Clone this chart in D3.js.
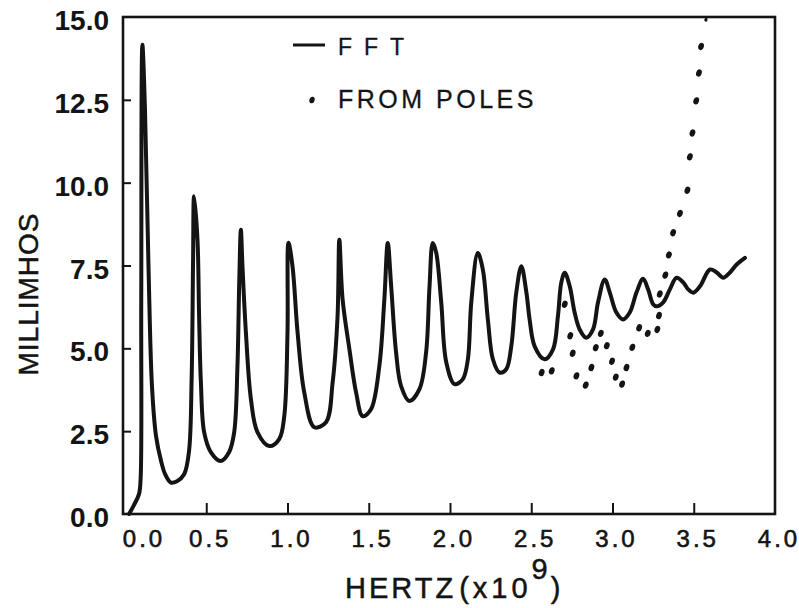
<!DOCTYPE html>
<html>
<head>
<meta charset="utf-8">
<script src="https://cdn.jsdelivr.net/npm/d3@7"></script>
<style>
  html, body { margin: 0; padding: 0; background: #fff; }
  svg { display: block; }
</style>
</head>
<body>
<svg id="chart" width="799" height="608"></svg>
<script>
// ---- data ----
const xTicks = [0, 0.5, 1.0, 1.5, 2.0, 2.5, 3.0, 3.5, 4.0];
const xTickLabels = ["0.0", "0.5", "1.0", "1.5", "2.0", "2.5", "3.0", "3.5", "4.0"];
const yTicks = [0, 2.5, 5.0, 7.5, 10.0, 12.5, 15.0];
const yTickLabels = ["0.0", "2.5", "5.0", "7.5", "10.0", "12.5", "15.0"];

const fftFreq = [
  0.025, 0.055, 0.086, 0.096, 0.100, 0.107, 0.123, 0.145, 0.166, 0.191, 0.222, 0.247,
  0.282, 0.320, 0.364, 0.394, 0.410, 0.419, 0.425, 0.446, 0.456, 0.467, 0.487, 0.528,
  0.590, 0.641, 0.672, 0.692, 0.703, 0.713, 0.723, 0.744, 0.775, 0.815, 0.888, 0.949,
  0.980, 1.000, 1.006, 1.031, 1.062, 1.103, 1.165, 1.237, 1.278, 1.308, 1.319, 1.339,
  1.381, 1.422, 1.463, 1.514, 1.565, 1.596, 1.617, 1.638, 1.668, 1.699, 1.750, 1.812,
  1.853, 1.874, 1.894, 1.915, 1.946, 1.977, 2.028, 2.079, 2.110, 2.131, 2.171, 2.202,
  2.233, 2.264, 2.305, 2.346, 2.377, 2.408, 2.439, 2.470, 2.490, 2.521, 2.582, 2.634,
  2.664, 2.685, 2.706, 2.737, 2.767, 2.798, 2.839, 2.880, 2.911, 2.952, 2.983, 3.024,
  3.065, 3.106, 3.148, 3.188, 3.219, 3.250, 3.271, 3.312, 3.353, 3.394, 3.435, 3.466,
  3.497, 3.538, 3.600, 3.641, 3.681, 3.723, 3.764, 3.815
];
const fftValue = [
  0.00, 0.27, 0.60, 1.05, 6.48, 14.16, 12.20, 7.38, 3.86, 2.35, 1.60, 1.20,
  0.95, 0.99, 1.20, 1.90, 4.07, 7.68, 9.59, 8.28, 5.96, 3.98, 2.47, 1.87,
  1.60, 1.87, 2.47, 4.46, 6.99, 8.58, 7.47, 5.48, 3.46, 2.47, 2.05, 2.26,
  2.95, 5.48, 8.19, 7.47, 5.48, 3.67, 2.62, 2.77, 3.98, 5.96, 8.28, 6.48,
  4.97, 3.67, 2.95, 3.16, 4.46, 6.48, 8.18, 6.87, 4.88, 3.86, 3.41, 3.77,
  4.88, 6.87, 8.18, 7.89, 6.39, 4.58, 3.92, 4.07, 4.67, 6.39, 7.88, 7.38,
  5.87, 4.67, 4.27, 4.37, 5.06, 6.69, 7.48, 6.69, 5.87, 5.06, 4.67, 4.97,
  5.96, 6.99, 7.28, 6.87, 6.08, 5.57, 5.32, 5.57, 6.39, 7.08, 6.69, 6.08,
  5.87, 6.08, 6.69, 7.10, 6.78, 6.33, 6.27, 6.39, 6.78, 7.13, 6.99, 6.78,
  6.68, 6.87, 7.38, 7.29, 7.13, 7.29, 7.53, 7.73
];

const polesFreq = [
  2.564, 2.626, 2.706, 2.740, 2.755, 2.778, 2.835, 2.870, 2.897, 2.928, 2.965, 2.997,
  3.020, 3.059, 3.086, 3.122, 3.164, 3.217, 3.276, 3.286, 3.291, 3.325, 3.347, 3.373,
  3.415, 3.461, 3.476, 3.492, 3.515, 3.532, 3.545, 3.575
];
const polesValue = [
  4.27, 4.32, 6.33, 5.38, 4.85, 4.17, 3.89, 4.42, 5.02, 5.45, 5.08, 4.61,
  4.13, 3.92, 4.42, 5.03, 5.62, 5.45, 5.57, 5.99, 6.64, 7.21, 7.82, 8.49,
  9.07, 9.77, 10.78, 11.50, 12.47, 13.31, 14.11, 14.92
];

// ---- drawing ----
const svg = d3.select("#chart");
const ink = "#141414";
const x = d3.scaleLinear().domain([0, 4]).range([125, 775]);
const y = d3.scaleLinear().domain([0, 15]).range([514, 17]);

// frame
svg.append("rect")
  .attr("x", 123).attr("y", y(15))
  .attr("width", x(4) - 123).attr("height", y(0) - y(15))
  .attr("fill", "none").attr("stroke", ink).attr("stroke-width", 2.6);

// x axis ticks (inward)
const xAxis = d3.axisBottom(x).tickValues(xTicks.slice(1, -1)).tickSize(-11).tickFormat("");
const gx = svg.append("g").attr("transform", `translate(0,${y(0)})`).call(xAxis);
gx.select(".domain").remove();
gx.selectAll("line").attr("stroke", ink).attr("stroke-width", 2);

// y axis ticks (inward)
const yAxis = d3.axisLeft(y).tickValues(yTicks.slice(1, -1)).tickSize(-8).tickFormat("");
const gy = svg.append("g").attr("transform", `translate(123,0)`).call(yAxis);
gy.select(".domain").remove();
gy.selectAll("line").attr("stroke", ink).attr("stroke-width", 2);

// x tick labels
svg.append("g").selectAll("text").data(xTicks).join("text")
  .attr("x", (d, i) => x(d) + (i === 0 ? 19 : 4))
  .attr("y", 547)
  .attr("text-anchor", "middle")
  .attr("font-family", "Liberation Sans, Arial, sans-serif")
  .attr("font-size", 24)
  .attr("letter-spacing", "3px")
  .attr("fill", ink).attr("stroke", ink).attr("stroke-width", 0.6)
  .text((d, i) => xTickLabels[i]);

// y tick labels
svg.append("g").selectAll("text").data(yTicks).join("text")
  .attr("x", 109)
  .attr("y", d => y(d) + 13)
  .attr("text-anchor", "end")
  .attr("font-family", "Liberation Sans, Arial, sans-serif")
  .attr("font-weight", "bold")
  .attr("font-size", 28)
  .attr("fill", ink)
  .text((d, i) => yTickLabels[i]);

// axis titles
svg.append("text")
  .attr("transform", "translate(38,294) rotate(-90)")
  .attr("text-anchor", "middle")
  .attr("font-family", "Liberation Sans, Arial, sans-serif")
  .attr("font-size", 28)
  .attr("letter-spacing", "1px")
  .attr("fill", ink).attr("stroke", ink).attr("stroke-width", 0.5)
  .text("MILLIMHOS");

const xt = svg.append("text")
  .attr("x", 345).attr("y", 598)
  .attr("font-family", "Liberation Sans, Arial, sans-serif")
  .attr("font-size", 29)
  .attr("fill", ink).attr("stroke", ink).attr("stroke-width", 0.5);
xt.append("tspan").attr("letter-spacing", "3px").text("HERTZ");
xt.append("tspan").attr("dx", 3).attr("letter-spacing", "4px").text("(x10");
xt.append("tspan").attr("dy", -19).attr("dx", 0).text("9");
xt.append("tspan").attr("dy", 19).attr("dx", 3).text(")");

// FFT curve
const fftData = fftFreq.map((f, i) => [f, fftValue[i]]);
const line = d3.line()
  .x(d => x(d[0])).y(d => y(d[1]))
  .curve(d3.curveCatmullRom.alpha(0.5));
svg.append("path").datum(fftData)
  .attr("d", line)
  .attr("fill", "none").attr("stroke", ink)
  .attr("stroke-width", 4).attr("stroke-linejoin", "round").attr("stroke-linecap", "round");

// pole points
const polesData = polesFreq.map((f, i) => [f, polesValue[i]]);
svg.append("g").selectAll("ellipse").data(polesData).join("ellipse")
  .attr("transform", d => `translate(${x(d[0])},${y(d[1])}) rotate(18)`)
  .attr("rx", (d, i) => i === polesData.length - 1 ? 1.6 : 2.8)
  .attr("ry", (d, i) => i === polesData.length - 1 ? 2 : 3.7)
  .attr("fill", ink);

// legend
svg.append("line")
  .attr("x1", 293).attr("x2", 325).attr("y1", 45).attr("y2", 45)
  .attr("stroke", ink).attr("stroke-width", 3);
svg.append("text")
  .attr("x", 338).attr("y", 55)
  .attr("font-family", "Liberation Sans, Arial, sans-serif")
  .attr("font-size", 23)
  .attr("letter-spacing", "12px")
  .attr("fill", ink).attr("stroke", ink).attr("stroke-width", 0.3)
  .text("FFT");
svg.append("ellipse")
  .attr("transform", "translate(312,100) rotate(18)")
  .attr("rx", 2.6).attr("ry", 3.3).attr("fill", ink);
svg.append("text")
  .attr("x", 338).attr("y", 108)
  .attr("font-family", "Liberation Sans, Arial, sans-serif")
  .attr("font-size", 25)
  .attr("letter-spacing", "3.5px")
  .attr("fill", ink).attr("stroke", ink).attr("stroke-width", 0.3)
  .text("FROM POLES");
</script>
</body>
</html>
